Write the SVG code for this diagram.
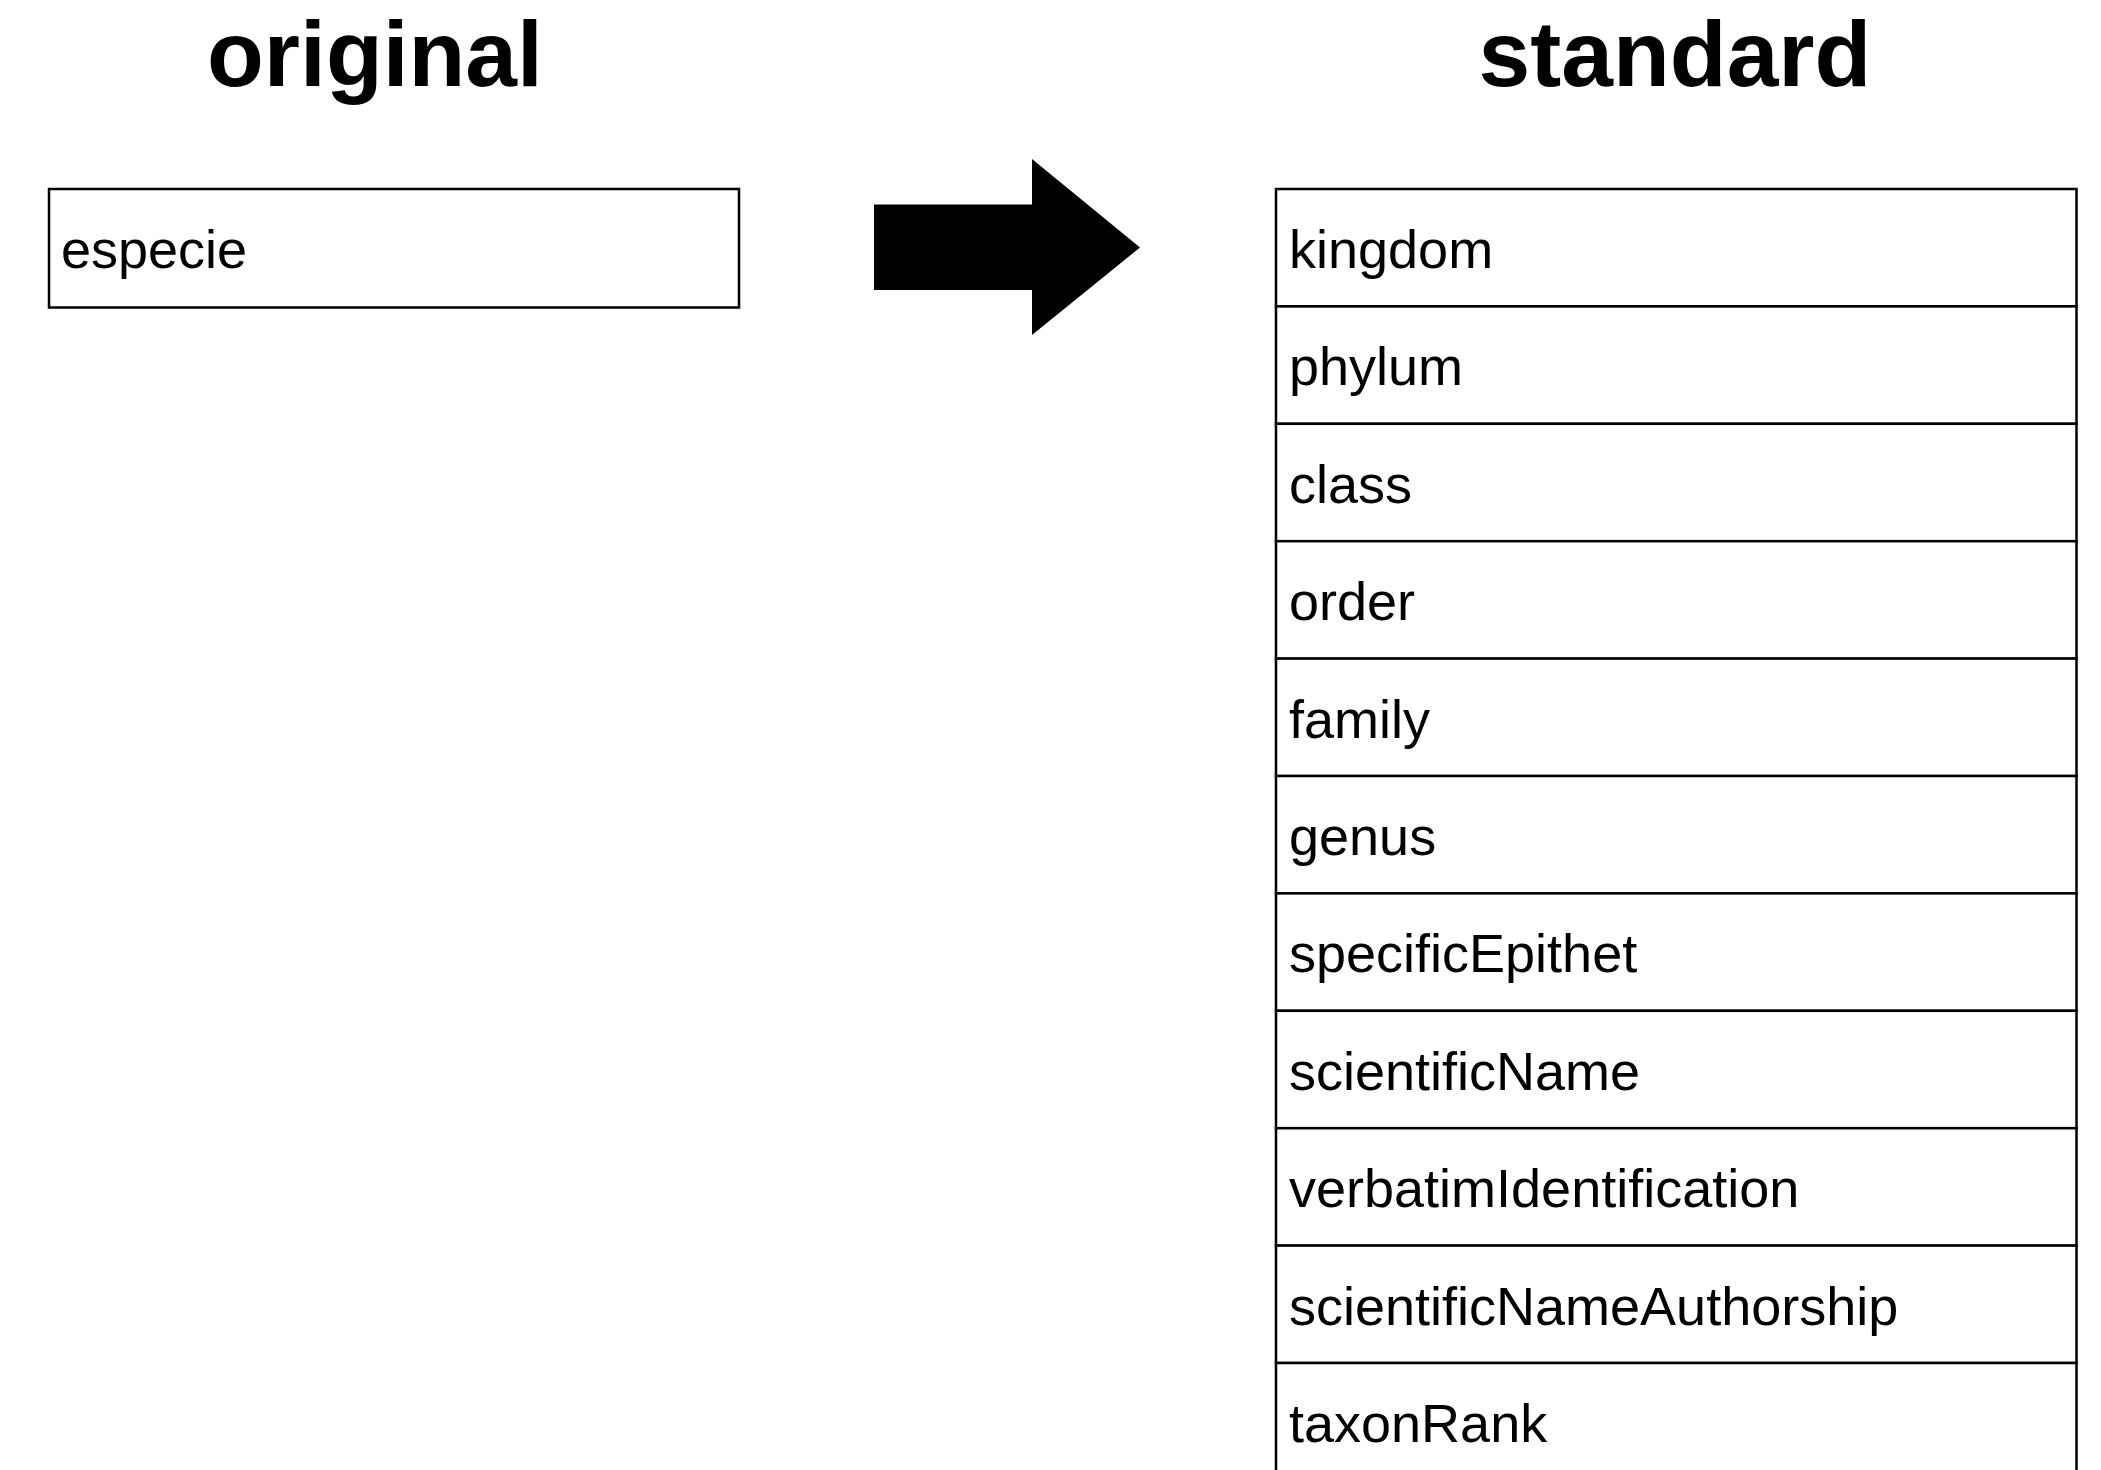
<svg xmlns="http://www.w3.org/2000/svg" width="2101" height="1470" viewBox="0 0 2101 1470">
<style>
.box{fill:#fff;stroke:#000;stroke-width:2.5}
.lbl{font-family:"Liberation Sans",Arial,Helvetica,sans-serif;font-size:54px;fill:#000}
.ttl{font-family:"Liberation Sans",Arial,Helvetica,sans-serif;font-size:93px;font-weight:bold;fill:#000;text-anchor:middle}
</style>
<rect x="0" y="0" width="2101" height="1470" fill="#fff"/>
<g id="titles">
<text class="ttl" x="375" y="86">original</text>
<text class="ttl" x="1675" y="86">standard</text>
</g>
<g id="node-especie">
<rect class="box" x="49" y="189" width="690" height="118.5"/>
<text class="lbl" x="61" y="268">especie</text>
</g>
<g id="connectors">
<polygon points="874,204.5 1032,204.5 1032,159 1140,247.5 1032,335 1032,290 874,290" fill="#000"/>
</g>
<g id="node-standard">
<g id="row-kingdom"><rect class="box" x="1276" y="189" width="800.5" height="117.4"/><text class="lbl" x="1289" y="268">kingdom</text></g>
<g id="row-phylum"><rect class="box" x="1276" y="306.4" width="800.5" height="117.4"/><text class="lbl" x="1289" y="385.4">phylum</text></g>
<g id="row-class"><rect class="box" x="1276" y="423.8" width="800.5" height="117.4"/><text class="lbl" x="1289" y="502.8">class</text></g>
<g id="row-order"><rect class="box" x="1276" y="541.2" width="800.5" height="117.4"/><text class="lbl" x="1289" y="620.2">order</text></g>
<g id="row-family"><rect class="box" x="1276" y="658.6" width="800.5" height="117.4"/><text class="lbl" x="1289" y="737.6">family</text></g>
<g id="row-genus"><rect class="box" x="1276" y="776" width="800.5" height="117.4"/><text class="lbl" x="1289" y="855">genus</text></g>
<g id="row-specificEpithet"><rect class="box" x="1276" y="893.4" width="800.5" height="117.4"/><text class="lbl" x="1289" y="972.4">specificEpithet</text></g>
<g id="row-scientificName"><rect class="box" x="1276" y="1010.8" width="800.5" height="117.4"/><text class="lbl" x="1289" y="1089.8">scientificName</text></g>
<g id="row-verbatimIdentification"><rect class="box" x="1276" y="1128.2" width="800.5" height="117.4"/><text class="lbl" x="1289" y="1207.2">verbatimIdentification</text></g>
<g id="row-scientificNameAuthorship"><rect class="box" x="1276" y="1245.6" width="800.5" height="117.4"/><text class="lbl" x="1289" y="1324.6">scientificNameAuthorship</text></g>
<g id="row-taxonRank"><rect class="box" x="1276" y="1363" width="800.5" height="117.4"/><text class="lbl" x="1289" y="1442">taxonRank</text></g>
</g>
</svg>
